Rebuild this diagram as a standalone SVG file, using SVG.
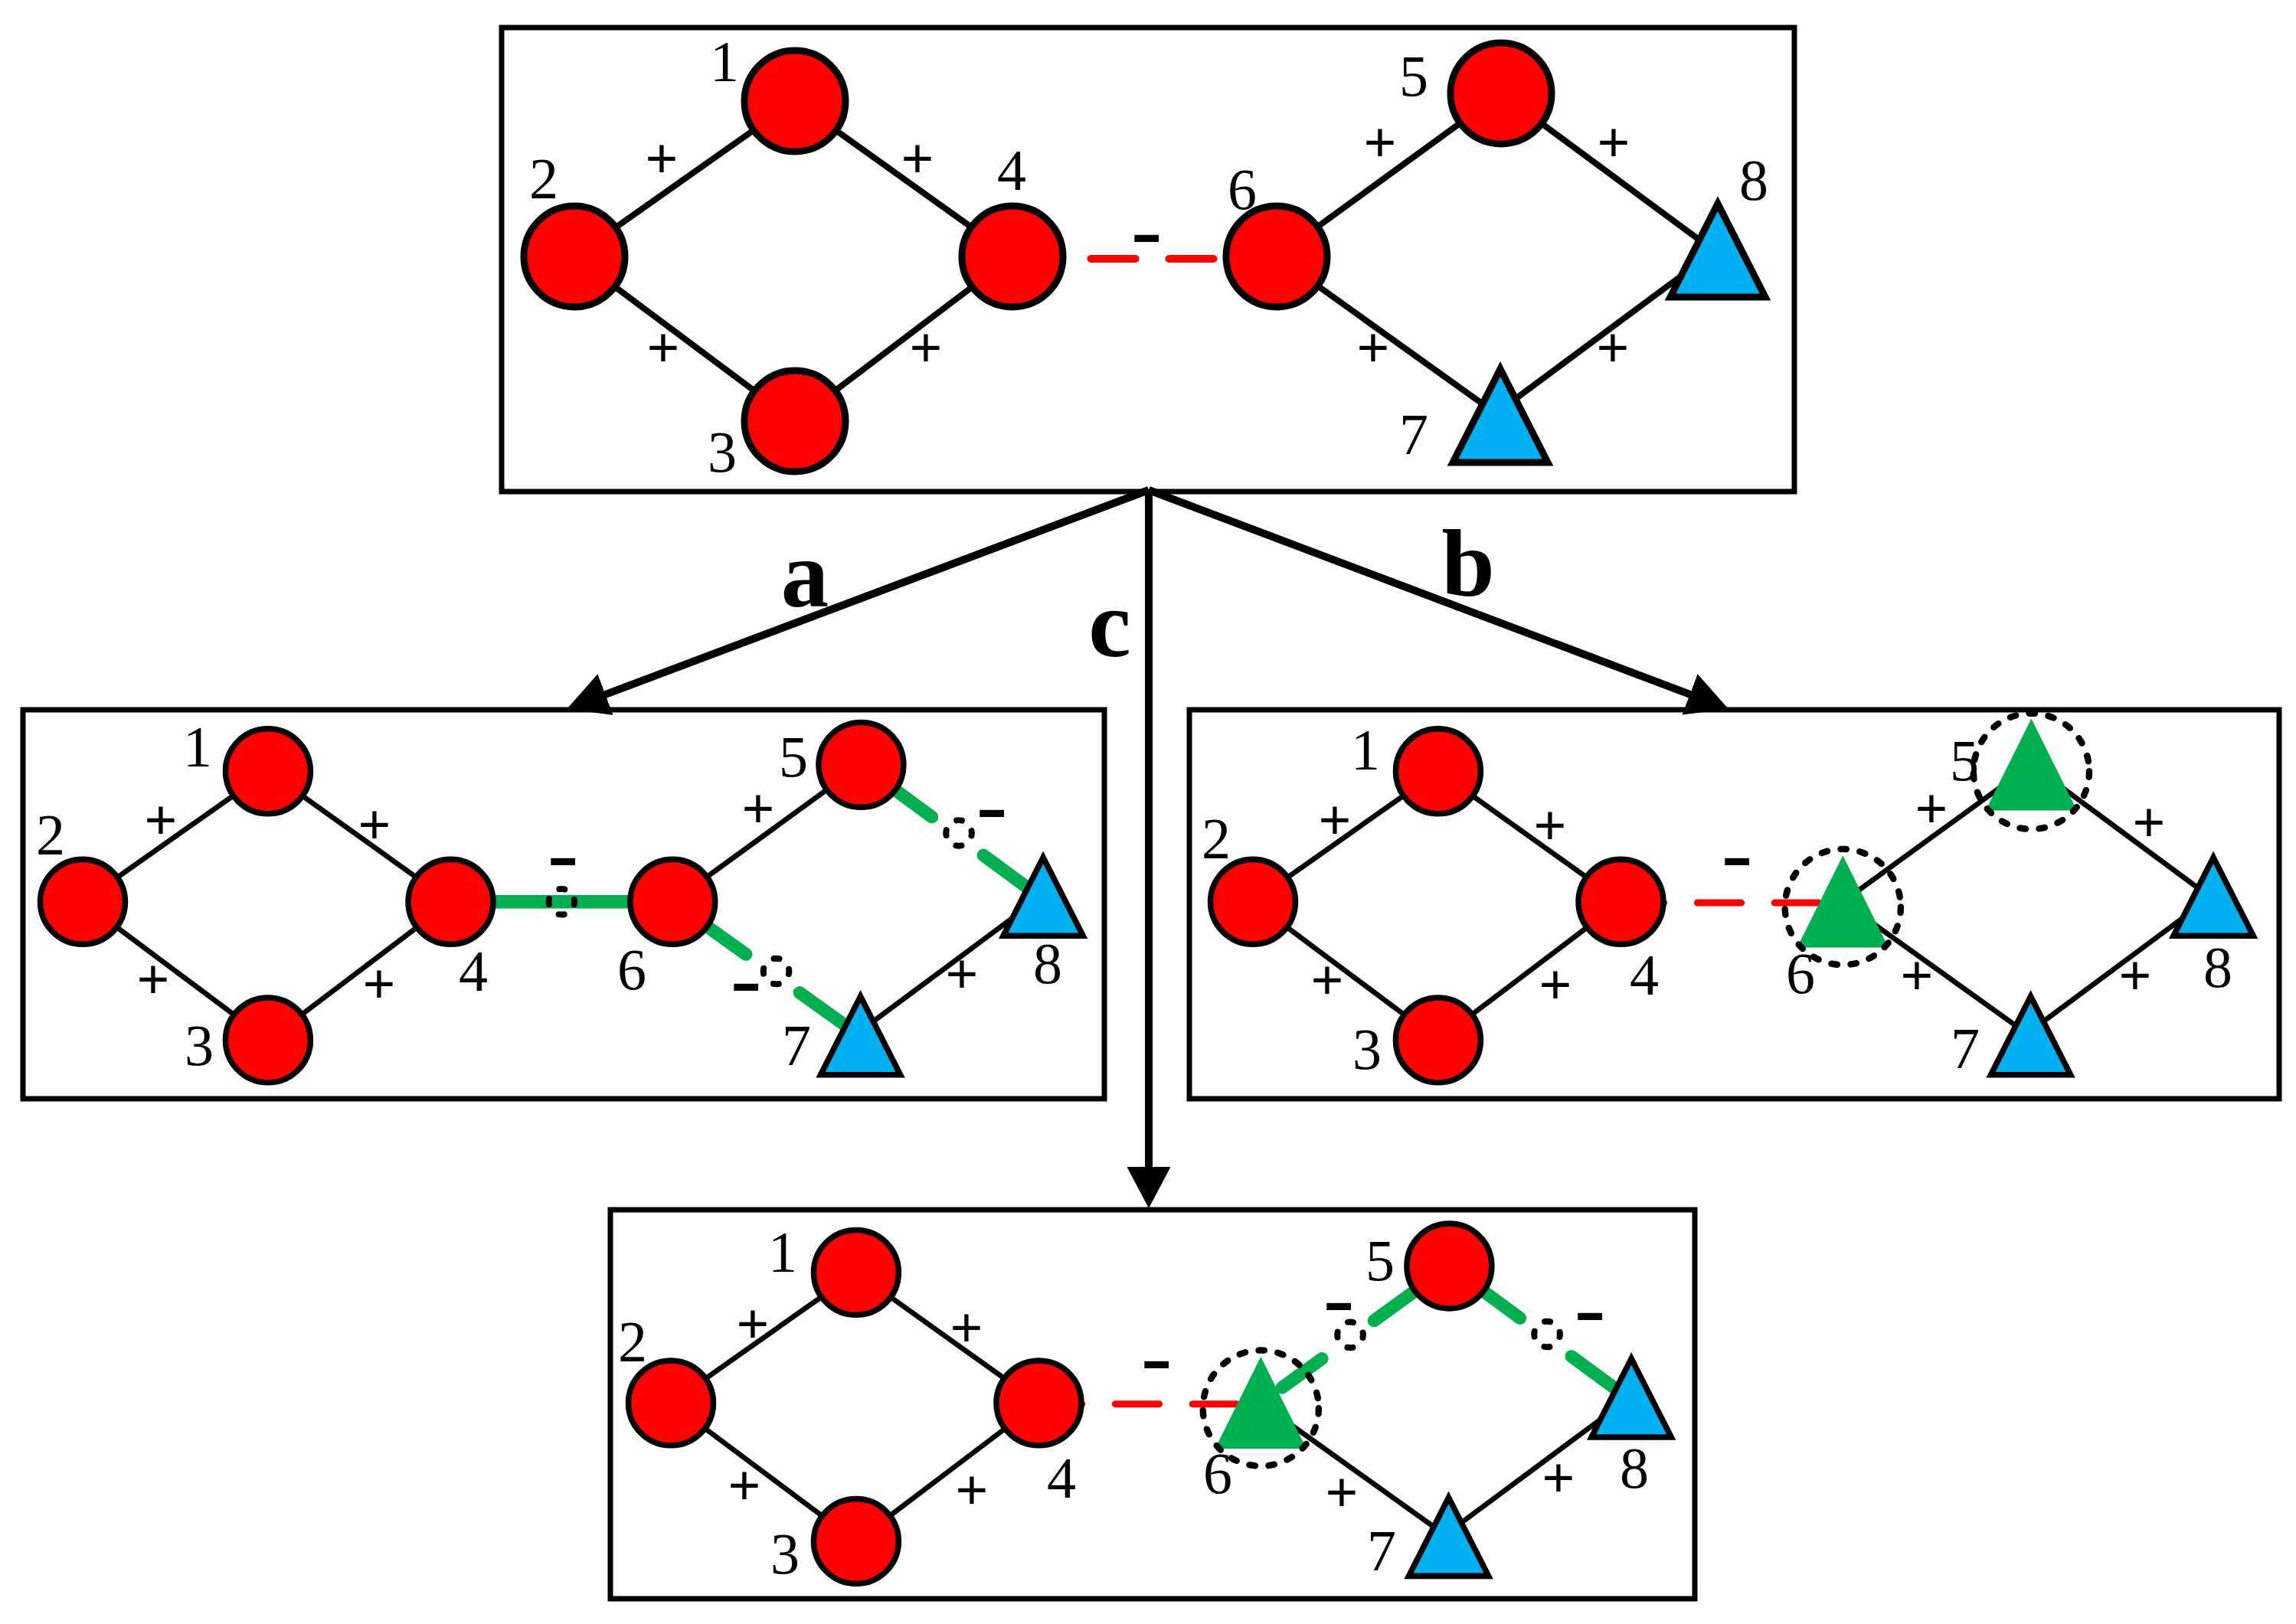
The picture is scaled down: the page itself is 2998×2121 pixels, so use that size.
<svg xmlns="http://www.w3.org/2000/svg" width="2998" height="2121" viewBox="0 0 2998 2121">
<defs>
<style>
.box{fill:none;stroke:#000;stroke-width:7}
.e{stroke:#000;stroke-width:8;fill:none}
.neg{stroke:#FF0000;stroke-width:10;stroke-linecap:round;fill:none;stroke-dasharray:58 44}
.neg2{stroke:#FF0000;stroke-width:10.7;stroke-linecap:round;fill:none;stroke-dasharray:68 52}
.gr{stroke:#00B050;stroke-width:20;stroke-linecap:round;fill:none}
.grs{stroke:#00B050;stroke-width:21;fill:none}
.rn{fill:#FF0000;stroke:#000;stroke-width:9}
.bt{fill:#00B0F0;stroke:#000;stroke-width:9}
.gt{fill:#00B050}
.sel{fill:none;stroke:#000;stroke-width:10;stroke-dasharray:9 21;stroke-linecap:round}
.sc{fill:none;stroke:#000;stroke-width:9.5;stroke-dasharray:8.5 22.9;stroke-dashoffset:4.25;stroke-linecap:round}
.t{font-family:"Liberation Serif","Times New Roman",serif;font-size:76px;text-anchor:middle;fill:#000}
.p{font-family:"Liberation Serif","Times New Roman",serif;font-size:76px;font-weight:bold;text-anchor:middle;fill:#000}
.m{font-family:"Liberation Serif","Times New Roman",serif;font-size:122px;text-anchor:middle;fill:#000}
.arr{stroke:#000;stroke-width:10;fill:none;marker-end:url(#ah)}
.lt{font-family:"Liberation Serif","Times New Roman",serif;font-size:125px;font-weight:bold;text-anchor:middle;fill:#000}
</style>
<marker id="ah" markerUnits="userSpaceOnUse" markerWidth="54" markerHeight="57" refX="34" refY="28.5" orient="auto" viewBox="0 0 54 57"><path d="M0,0 L54,28.5 L0,57 Z" fill="#000"/></marker>
</defs>
<rect width="2998" height="2121" fill="#fff"/>

<!-- boxes -->
<g id="boxes">
<rect class="box" x="655" y="36" width="1688" height="606"/>
<rect class="box" x="30" y="927" width="1412" height="508"/>
<rect class="box" x="1553" y="927" width="1423" height="508"/>
<rect class="box" x="797" y="1580" width="1416" height="508"/>
</g>

<!-- arrows -->
<g id="arrows">
<line class="arr" x1="1500" y1="640" x2="758.7" y2="919"/>
<line class="arr" x1="1500" y1="640" x2="1500" y2="1558"/>
<line class="arr" x1="1500" y1="640" x2="2238.3" y2="918.9"/>
<text class="lt" x="1051" y="792">a</text>
<text class="lt" x="1449" y="857">c</text>
<text class="lt" x="1917" y="778">b</text>
</g>

<!-- TOP PANEL -->
<g id="panel-top">
<g id="top-edges">
<line class="e" x1="750" y1="335" x2="1038" y2="132"/>
<line class="e" x1="1038" y1="132" x2="1322" y2="335"/>
<line class="e" x1="750" y1="335" x2="1038" y2="550"/>
<line class="e" x1="1038" y1="550" x2="1322" y2="335"/>
<line class="e" x1="1667" y1="335" x2="1960" y2="122"/>
<line class="e" x1="1960" y1="122" x2="2228" y2="320"/>
<line class="e" x1="1667" y1="335" x2="1945" y2="534"/>
<line class="e" x1="1972" y1="526" x2="2203" y2="354.6"/>
<line class="neg" x1="1322.5" y1="338" x2="1667" y2="338"/>
<text class="p" x="864" y="233">+</text>
<text class="p" x="1198" y="233">+</text>
<text class="p" x="866" y="480">+</text>
<text class="p" x="1209" y="480">+</text>
<text class="p" x="1802" y="212">+</text>
<text class="p" x="2107" y="212">+</text>
<text class="p" x="1793" y="480">+</text>
<text class="p" x="2106" y="480">+</text>
<text class="m" x="1497" y="340">-</text>
</g>
<g id="top-n1"><circle class="rn" cx="1038" cy="132" r="66"/><text class="t" x="946" y="106">1</text></g>
<g id="top-n2"><circle class="rn" cx="750" cy="335" r="66"/><text class="t" x="710" y="259">2</text></g>
<g id="top-n3"><circle class="rn" cx="1038" cy="550" r="66"/><text class="t" x="943" y="616">3</text></g>
<g id="top-n4"><circle class="rn" cx="1322" cy="335" r="66"/><text class="t" x="1321" y="248">4</text></g>
<g id="top-n5"><circle class="rn" cx="1960" cy="122" r="66"/><text class="t" x="1846" y="125">5</text></g>
<g id="top-n6"><circle class="rn" cx="1667" cy="335" r="66"/><text class="t" x="1622" y="273">6</text></g>
<g id="top-n7"><path class="bt" d="M1959,482 L2021,604 L1897,604 Z"/><text class="t" x="1846" y="593">7</text></g>
<g id="top-n8"><path class="bt" d="M2243,266 L2305,388 L2181,388 Z"/><text class="t" x="2290" y="261">8</text></g>
</g>

<!-- PANEL A -->
<g id="panel-a" transform="translate(-522,896.4) scale(0.84)">
<g id="a-edges">
<line class="e" x1="750" y1="335" x2="1038" y2="132"/>
<line class="e" x1="1038" y1="132" x2="1322" y2="335"/>
<line class="e" x1="750" y1="335" x2="1038" y2="550"/>
<line class="e" x1="1038" y1="550" x2="1322" y2="335"/>
<line class="e" x1="1667" y1="335" x2="1960" y2="122"/>
<line class="e" x1="1972" y1="526" x2="2203" y2="354.6"/>
<line class="grs" x1="1322" y1="335" x2="1667" y2="335"/>
<circle class="sc" cx="1494.5" cy="335" r="20"/>
<line class="gr" x1="1960" y1="122" x2="2070" y2="203"/>
<circle class="sc" cx="2112" cy="228" r="20"/>
<line class="gr" x1="2150" y1="262.6" x2="2228" y2="320"/>
<line class="gr" x1="1667" y1="335" x2="1781" y2="416.6"/>
<circle class="sc" cx="1828" cy="443" r="20"/>
<line class="gr" x1="1864.4" y1="476.3" x2="1945" y2="534"/>
<g transform="scale(1.190476)">
<text class="p" x="732" y="200.6">+</text>
<text class="p" x="1011" y="206.6">+</text>
<text class="p" x="722" y="408.6">+</text>
<text class="p" x="1017" y="414.6">+</text>
<text class="p" x="1512" y="185.6">+</text>
<text class="p" x="1778" y="401.6">+</text>
<text class="m" x="1257" y="257.6">-</text>
<text class="m" x="1817" y="194.6">-</text>
<text class="m" x="1496" y="421.6">-</text>
</g>
</g>
<g id="a-n1"><circle class="rn" cx="1038" cy="132" r="66"/><text class="t" transform="scale(1.190476)" x="780" y="105">1</text></g>
<g id="a-n2"><circle class="rn" cx="750" cy="335" r="66"/><text class="t" transform="scale(1.190476)" x="588" y="220">2</text></g>
<g id="a-n3"><circle class="rn" cx="1038" cy="550" r="66"/><text class="t" transform="scale(1.190476)" x="782" y="495">3</text></g>
<g id="a-n4"><circle class="rn" cx="1322" cy="335" r="66"/><text class="t" transform="scale(1.190476)" x="1140" y="398">4</text></g>
<g id="a-n5"><circle class="rn" cx="1960" cy="122" r="66"/><text class="t" transform="scale(1.190476)" x="1558" y="118">5</text></g>
<g id="a-n6"><circle class="rn" cx="1667" cy="335" r="66"/><text class="t" transform="scale(1.190476)" x="1347" y="396">6</text></g>
<g id="a-n7"><path class="bt" d="M1959,482 L2021,604 L1897,604 Z"/><text class="t" transform="scale(1.190476)" x="1562" y="495">7</text></g>
<g id="a-n8"><path class="bt" d="M2243,266 L2305,388 L2181,388 Z"/><text class="t" transform="scale(1.190476)" x="1890" y="388">8</text></g>
</g>

<!-- PANEL B -->
<g id="panel-b" transform="translate(1006,896.4) scale(0.84)">
<g id="b-edges">
<line class="e" x1="750" y1="335" x2="1038" y2="132"/>
<line class="e" x1="1038" y1="132" x2="1322" y2="335"/>
<line class="e" x1="750" y1="335" x2="1038" y2="550"/>
<line class="e" x1="1038" y1="550" x2="1322" y2="335"/>
<line class="e" x1="1667" y1="335" x2="1960" y2="122"/>
<line class="e" x1="1960" y1="122" x2="2228" y2="320"/>
<line class="e" x1="1667" y1="335" x2="1945" y2="534"/>
<line class="e" x1="1972" y1="526" x2="2203" y2="354.6"/>
<line class="neg2" x1="1321" y1="336.5" x2="1667" y2="336.5"/>
<g transform="scale(1.190476)">
<text class="p" x="737" y="200.6">+</text>
<text class="p" x="1018" y="207.6">+</text>
<text class="p" x="727" y="409.6">+</text>
<text class="p" x="1025" y="415.6">+</text>
<text class="p" x="1516" y="185.6">+</text>
<text class="p" x="1800" y="203.6">+</text>
<text class="p" x="1497" y="403.6">+</text>
<text class="p" x="1782" y="403.6">+</text>
<text class="m" x="1262" y="257.6">-</text>
</g>
</g>
<g id="b-n1"><circle class="rn" cx="1038" cy="132" r="66"/><text class="t" transform="scale(1.190476)" x="777" y="109">1</text></g>
<g id="b-n2"><circle class="rn" cx="750" cy="335" r="66"/><text class="t" transform="scale(1.190476)" x="582" y="225">2</text></g>
<g id="b-n3"><circle class="rn" cx="1038" cy="550" r="66"/><text class="t" transform="scale(1.190476)" x="779" y="500">3</text></g>
<g id="b-n4"><circle class="rn" cx="1322" cy="335" r="66"/><text class="t" transform="scale(1.190476)" x="1141" y="403">4</text></g>
<g id="b-n5"><path class="gt" d="M1960,50 L2031,193 L1889,193 Z"/><circle class="sel" cx="1960" cy="132" r="90"/><text class="t" transform="scale(1.190476)" x="1559" y="123">5</text></g>
<g id="b-n6"><path class="gt" d="M1667,263 L1738,406 L1596,406 Z"/><circle class="sel" cx="1667" cy="343" r="90"/><text class="t" transform="scale(1.190476)" x="1345" y="401">6</text></g>
<g id="b-n7"><path class="bt" d="M1959,482 L2021,604 L1897,604 Z"/><text class="t" transform="scale(1.190476)" x="1560" y="499">7</text></g>
<g id="b-n8"><path class="bt" d="M2243,266 L2305,388 L2181,388 Z"/><text class="t" transform="scale(1.190476)" x="1890" y="393">8</text></g>
</g>

<!-- PANEL C -->
<g id="panel-c" transform="translate(246,1551) scale(0.84)">
<g id="c-edges">
<line class="e" x1="750" y1="335" x2="1038" y2="132"/>
<line class="e" x1="1038" y1="132" x2="1322" y2="335"/>
<line class="e" x1="750" y1="335" x2="1038" y2="550"/>
<line class="e" x1="1038" y1="550" x2="1322" y2="335"/>
<line class="e" x1="1667" y1="335" x2="1945" y2="534"/>
<line class="e" x1="1972" y1="526" x2="2203" y2="354.6"/>
<line class="neg2" x1="1321" y1="336.5" x2="1667" y2="336.5"/>
<line class="gr" x1="1960" y1="122" x2="1843" y2="207"/>
<circle class="sc" cx="1806" cy="229" r="20"/>
<line class="gr" x1="1762" y1="266" x2="1700" y2="311"/>
<line class="gr" x1="1960" y1="122" x2="2070" y2="203"/>
<circle class="sc" cx="2112" cy="228" r="20"/>
<line class="gr" x1="2150" y1="262.6" x2="2228" y2="320"/>
<g transform="scale(1.190476)">
<text class="p" x="737" y="204">+</text>
<text class="p" x="1016" y="209">+</text>
<text class="p" x="726" y="415">+</text>
<text class="p" x="1023" y="421">+</text>
<text class="p" x="1506" y="424">+</text>
<text class="p" x="1789" y="405">+</text>
<text class="m" x="1264" y="260">-</text>
<text class="m" x="1502" y="184">-</text>
<text class="m" x="1830" y="197">-</text>
</g>
</g>
<g id="c-n1"><circle class="rn" cx="1038" cy="132" r="66"/><text class="t" transform="scale(1.190476)" x="776" y="110">1</text></g>
<g id="c-n2"><circle class="rn" cx="750" cy="335" r="66"/><text class="t" transform="scale(1.190476)" x="580" y="227">2</text></g>
<g id="c-n3"><circle class="rn" cx="1038" cy="550" r="66"/><text class="t" transform="scale(1.190476)" x="779" y="504">3</text></g>
<g id="c-n4"><circle class="rn" cx="1322" cy="335" r="66"/><text class="t" transform="scale(1.190476)" x="1140" y="405">4</text></g>
<g id="c-n5"><circle class="rn" cx="1960" cy="122" r="66"/><text class="t" transform="scale(1.190476)" x="1556" y="121">5</text></g>
<g id="c-n6"><path class="gt" d="M1667,263 L1738,406 L1596,406 Z"/><circle class="sel" cx="1667" cy="343" r="90"/><text class="t" transform="scale(1.190476)" x="1344" y="399">6</text></g>
<g id="c-n7"><path class="bt" d="M1959,482 L2021,604 L1897,604 Z"/><text class="t" transform="scale(1.190476)" x="1558" y="500">7</text></g>
<g id="c-n8"><path class="bt" d="M2243,266 L2305,388 L2181,388 Z"/><text class="t" transform="scale(1.190476)" x="1888" y="392">8</text></g>
</g>
</svg>
